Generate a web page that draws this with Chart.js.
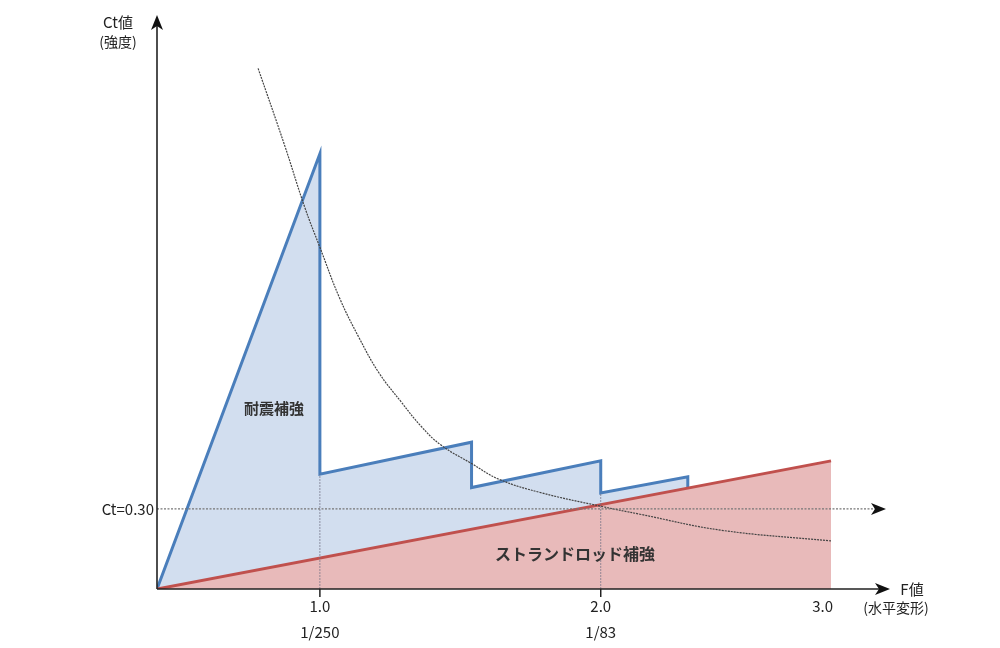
<!DOCTYPE html>
<html>
<head>
<meta charset="utf-8">
<script src="https://cdn.jsdelivr.net/npm/chart.js@4"></script>
<style>
  html, body { margin: 0; padding: 0; background: #fff; }
  #wrap { width: 1000px; height: 648px; }
</style>
</head>
<body>
<div id="wrap"><canvas id="ct"></canvas></div>
<script>
// schematic: F value on x, Ct value on y
var tickPos = [1.0, 2.0, 2.79];
var tickLabels = ['1.0', '2.0', '3.0'];
var subLabels = ['1/250', '1/83', ''];
var ctLevel = 0.30;

// 耐震補強 (blue saw-tooth)
var seismicX = [0.42, 1.0, 1.0, 1.54, 1.54, 2.0, 2.0, 2.31, 2.31];
var seismicY = [0, 1.63, 0.43, 0.55, 0.38, 0.48, 0.36, 0.42, 0.378];

// ストランドロッド補強 (red triangle)
var strandX = [0.42, 2.82, 2.82];
var strandY = [0, 0.48, 0];

// required curve (thin dotted)
var curveX = [0.78, 0.875, 0.946, 1.0, 1.07, 1.14, 1.21, 1.29, 1.36, 1.43, 1.54, 1.64, 1.79, 2.0, 2.14, 2.43, 2.82];
var curveY = [1.95, 1.66, 1.43, 1.28, 1.09, 0.94, 0.81, 0.70, 0.61, 0.54, 0.47, 0.41, 0.36, 0.31, 0.28, 0.22, 0.18];

function pts(xs, ys) {
  return xs.map(function (x, i) { return { x: x, y: ys[i] }; });
}

var jp = "'Noto Sans CJK JP', 'Noto Sans', sans-serif";

function arrow(ctx, x, y, dir) {
  ctx.beginPath();
  if (dir == 'up') {
    ctx.moveTo(x, y); ctx.lineTo(x - 6, y + 15); ctx.lineTo(x, y + 11); ctx.lineTo(x + 6, y + 15);
  } else {
    ctx.moveTo(x, y); ctx.lineTo(x - 15, y - 6); ctx.lineTo(x - 11, y); ctx.lineTo(x - 15, y + 6);
  }
  ctx.closePath();
  ctx.fill();
}

var decor = {
  id: 'decor',
  afterDatasetsDraw: function (chart) {
    var ctx = chart.ctx, xs = chart.scales.x, ys = chart.scales.y, a = chart.chartArea;
    var x0 = a.left, y0 = ys.getPixelForValue(0);
    ctx.save();

    // vertical guides up to the lower step of the blue line
    ctx.strokeStyle = 'rgba(110,110,130,0.7)';
    ctx.lineWidth = 1;
    ctx.setLineDash([2, 1]);
    for (var i = 0; i < 2; i++) {
      var low = null;
      seismicX.forEach(function (v, k) {
        if (v == tickPos[i] && (low === null || seismicY[k] < low)) low = seismicY[k];
      });
      var px = xs.getPixelForValue(tickPos[i]);
      ctx.beginPath();
      ctx.moveTo(px, y0);
      ctx.lineTo(px, ys.getPixelForValue(low));
      ctx.stroke();
    }

    // Ct = 0.30 dotted reference line
    var yc = ys.getPixelForValue(ctLevel);
    ctx.strokeStyle = '#777';
    ctx.lineWidth = 1.2;
    ctx.setLineDash([2, 1.5]);
    ctx.beginPath();
    ctx.moveTo(x0, yc);
    ctx.lineTo(a.right - 8, yc);
    ctx.stroke();
    ctx.setLineDash([]);
    ctx.fillStyle = '#111';
    arrow(ctx, a.right - 4, yc, 'right');

    // axes
    ctx.strokeStyle = '#222';
    ctx.lineWidth = 1.6;
    ctx.beginPath();
    ctx.moveTo(x0, y0); ctx.lineTo(x0, a.top + 6);
    ctx.moveTo(x0, y0); ctx.lineTo(a.right - 6, y0);
    ctx.stroke();
    arrow(ctx, x0, a.top, 'up');
    arrow(ctx, a.right, y0, 'right');

    // tick marks + labels
    ctx.lineWidth = 1.5;
    ctx.font = '15px ' + jp;
    ctx.textAlign = 'center';
    ctx.textBaseline = 'middle';
    tickPos.forEach(function (t, i) {
      var px = xs.getPixelForValue(t);
      if (subLabels[i]) {
        ctx.beginPath();
        ctx.moveTo(px, y0); ctx.lineTo(px, y0 + 8);
        ctx.stroke();
      }
      ctx.fillStyle = '#222';
      ctx.fillText(tickLabels[i], px, y0 + 17);
      ctx.fillText(subLabels[i], px, y0 + 43);
    });

    ctx.textAlign = 'right';
    ctx.fillText('Ct=0.30', x0 - 3, yc);

    // axis titles
    ctx.textAlign = 'center';
    ctx.font = '15px ' + jp;
    ctx.fillText('Ct値', 118, 22);
    ctx.font = '14px ' + jp;
    ctx.fillText('(強度)', 118, 42);
    ctx.font = '15px ' + jp;
    ctx.fillText('F値', 912, y0);
    ctx.font = '14px ' + jp;
    ctx.fillText('(水平変形)', 896, y0 + 19);

    // area names
    ctx.font = 'bold 15px ' + jp;
    ctx.fillStyle = '#333';
    ctx.fillText('耐震補強', 274, 408);
    ctx.font = 'bold 16px ' + jp;
    ctx.fillText('ストランドロッド補強', 575, 554);
    ctx.restore();
  }
};

new Chart(document.getElementById('ct'), {
  type: 'scatter',
  data: {
    datasets: [
      {
        label: 'curve',
        data: pts(curveX, curveY),
        showLine: true,
        borderColor: '#444',
        borderWidth: 1.2,
        borderDash: [2, 1],
        tension: 0.4,
        pointRadius: 0,
        fill: false
      },
      {
        label: 'ストランドロッド補強',
        data: pts(strandX, strandY),
        showLine: true,
        borderColor: '#c0504d',
        borderWidth: 3,
        backgroundColor: '#e8baba',
        pointRadius: 0,
        fill: 'origin',
        // only the sloped edge is stroked
        segment: {
          borderColor: function (c) { return c.p0DataIndex >= 1 ? 'rgba(0,0,0,0)' : undefined; }
        }
      },
      {
        label: '耐震補強',
        data: pts(seismicX, seismicY),
        showLine: true,
        borderColor: '#4a7ebb',
        borderWidth: 3,
        borderJoinStyle: 'miter',
        backgroundColor: '#d2deef',
        pointRadius: 0,
        fill: 'origin'
      }
    ]
  },
  options: {
    responsive: true,
    maintainAspectRatio: false,
    animation: false,
    layout: { padding: { left: 157, right: 110, top: 15, bottom: 59 } },
    plugins: {
      legend: { display: false },
      tooltip: { enabled: false }
    },
    scales: {
      x: { type: 'linear', min: 0.42, max: 3.03, display: false },
      y: { type: 'linear', min: 0, max: 2.15, display: false }
    }
  },
  plugins: [decor]
});
</script>
</body>
</html>
